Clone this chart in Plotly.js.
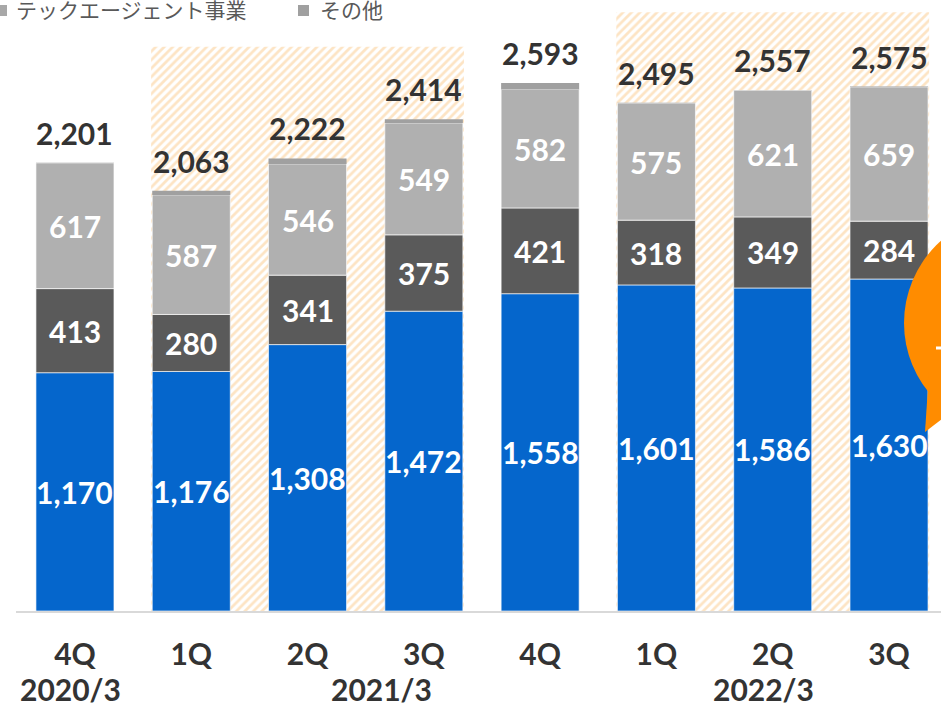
<!DOCTYPE html>
<html>
<head>
<meta charset="utf-8">
<script src="https://cdn.plot.ly/plotly-3.0.1.min.js"></script>
<style>html,body{margin:0;padding:0;background:#fff;}#chart{width:941px;height:708px;}</style>
</head>
<body>
<div id="chart"></div>
<script>
// ---- data ----
const quarters   = ['4Q','1Q','2Q','3Q','4Q','1Q','2Q','3Q'];
const fiscalYear = ['2020/3','2021/3','2021/3','2021/3','2021/3','2022/3','2022/3','2022/3'];
const techAgent  = [1170,1176,1308,1472,1558,1601,1586,1630];
const midSeg     = [413,280,341,375,421,318,349,284];
const otherSeg   = [617,587,546,549,582,575,621,659];
const topSeg     = [1,20,27,18,32,1,1,2];
const totals     = [2201,2063,2222,2414,2593,2495,2557,2575];
const yearLabels = ['2020/3','2021/3','2022/3'];
const legendLabels = ['テックエージェント事業','その他'];
const bandCenters = ['2021/3 2Q','2022/3 2Q'];
const bandTops    = [2770,2940];

const categories = fiscalYear.map((f,i)=>f+' '+quarters[i]);

// ---- helpers ----
const W=941,H=708,ML=16,MR=0,MT=0,MB=97;
const PW=W-ML-MR, PH=H-MT-MB;
const px2x = p => (p-ML)/PW;
const py2y = p => (H-MB-p)/PH;
const fmt = v => v.toLocaleString('en-US');

const BW = 0.671;
const base1 = techAgent.map(v=>0);
const base2 = techAgent.slice();
const base3 = techAgent.map((v,i)=>v+midSeg[i]);
const base4 = techAgent.map((v,i)=>v+midSeg[i]+otherSeg[i]);

const lineW = {color:'rgba(255,255,255,0.8)', width:0.8};

const traces = [
  {type:'bar', x:bandCenters, y:bandTops, width:2.69, hoverinfo:'skip', showlegend:false,
   marker:{color:'#ffffff', line:{width:0}, pattern:{shape:'/', fgcolor:'#fde4c4', bgcolor:'#ffffff', size:6, solidity:0.45, fillmode:'replace'}}},
  {type:'bar', name:'テックエージェント', x:categories, y:techAgent, base:base1, width:BW, marker:{color:'#0566cc', line:lineW}},
  {type:'bar', name:'mid', x:categories, y:midSeg, base:base2, width:BW, marker:{color:'#5a5a5a', line:lineW}},
  {type:'bar', name:'その他', x:categories, y:otherSeg, base:base3, width:BW, marker:{color:'#b0b0b0', line:lineW}},
  {type:'bar', name:'top', x:categories, y:topSeg, base:base4, width:BW, marker:{color:'#a0a0a0', line:{width:0}}}
];

const numFont = {family:'Lato', size:30, color:'#ffffff', weight:700};
const annotations = [];
categories.forEach((c,i)=>{
  annotations.push({x:c, y:base1[i]+techAgent[i]/2, text:fmt(techAgent[i]), showarrow:false, font:numFont, xanchor:'center', yanchor:'middle'});
  annotations.push({x:c, y:base2[i]+midSeg[i]/2, text:fmt(midSeg[i]), showarrow:false, font:numFont, xanchor:'center', yanchor:'middle'});
  annotations.push({x:c, y:base3[i]+otherSeg[i]/2, text:fmt(otherSeg[i]), showarrow:false, font:numFont, xanchor:'center', yanchor:'middle'});
  annotations.push({x:c, y:totals[i], text:fmt(totals[i]), showarrow:false, yshift:30,
    font:{family:'Lato', size:30, color:'#333333', weight:700}, xanchor:'center', yanchor:'middle'});
});
// fiscal year labels under the axis
const yearX = [-0.04, 2.64, 5.92];
yearLabels.forEach((t,i)=>{
  annotations.push({xref:'x', yref:'paper', x:yearX[i], y:py2y(689), text:t, showarrow:false,
    font:{family:'Lato', size:30, color:'#333333', weight:700}, xanchor:'center', yanchor:'middle'});
});
// legend (top, partially cut)
const legX = [14, 318];
legendLabels.forEach((t,i)=>{
  annotations.push({xref:'paper', yref:'paper', x:px2x(legX[i]), y:py2y(9), text:t, showarrow:false,
    font:{family:'Noto Sans CJK JP', size:21, color:'#595959'}, xanchor:'left', yanchor:'middle'});
});

const shapes = [
  {type:'rect', xref:'paper', yref:'paper', x0:px2x(-4), x1:px2x(7), y0:py2y(16), y1:py2y(5), fillcolor:'#a8a8a8', line:{width:0}},
  {type:'rect', xref:'paper', yref:'paper', x0:px2x(298), x1:px2x(309), y0:py2y(16), y1:py2y(5), fillcolor:'#a0a0a0', line:{width:0}},
  // orange speech bubble
  {type:'circle', xref:'paper', yref:'paper', layer:'above', x0:px2x(904), x1:px2x(1124), y0:py2y(433), y1:py2y(213), fillcolor:'#ff8c00', line:{width:0}},
  {type:'path', xref:'paper', yref:'paper', layer:'above',
   path:`M ${px2x(929)} ${py2y(372)} L ${px2x(925)} ${py2y(432)} L ${px2x(960)} ${py2y(405)} L ${px2x(960)} ${py2y(372)} Z`,
   fillcolor:'#ff8c00', line:{width:0}},
  {type:'rect', xref:'paper', yref:'paper', layer:'above', x0:px2x(936), x1:px2x(945), y0:py2y(349.5), y1:py2y(346.5), fillcolor:'#ffffff', line:{width:0}}
];

const layout = {
  width:W, height:H,
  margin:{l:ML, r:MR, t:MT, b:MB, autoexpand:false},
  paper_bgcolor:'#ffffff', plot_bgcolor:'#ffffff',
  barmode:'overlay', showlegend:false,
  xaxis:{type:'category', categoryorder:'array', categoryarray:categories, range:[-0.507, 7.447],
    tickmode:'array', tickvals:categories, ticktext:quarters, ticks:'', ticklabelstandoff:16,
    tickfont:{family:'Lato', size:30, color:'#333333', weight:700},
    showline:true, linecolor:'#d9d9d9', linewidth:2, showgrid:false, zeroline:false, fixedrange:true},
  yaxis:{range:[0,3000], visible:false, showgrid:false, zeroline:false, fixedrange:true},
  annotations:annotations, shapes:shapes
};

Plotly.newPlot('chart', traces, layout, {displayModeBar:false, staticPlot:true});
</script>
</body>
</html>
